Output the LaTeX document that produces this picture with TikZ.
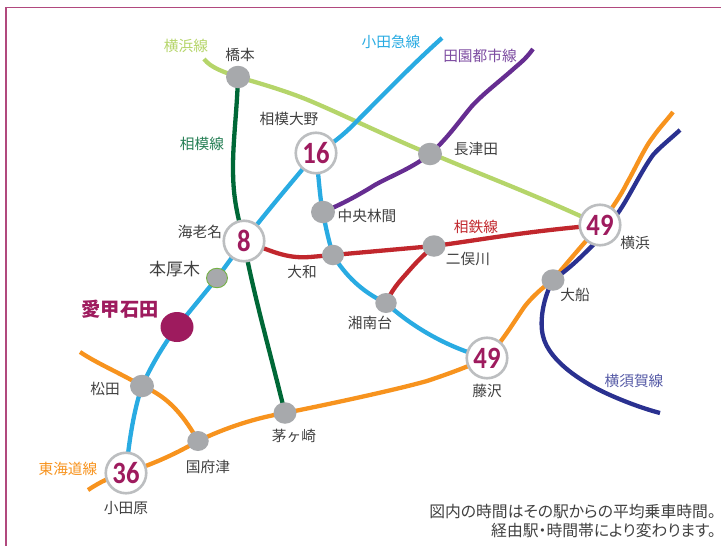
\documentclass[tikz,border=0pt]{standalone}
\usepackage{fontspec}
\setmainfont{Noto Sans CJK JP}
\newfontfamily\numfont[FakeStretch=0.86]{Carlito}
\newfontfamily\notefont[RawFeature=+palt]{Noto Sans CJK JP}
\usetikzlibrary{backgrounds,shapes.geometric}
\definecolor{cOda}{HTML}{29ABE2}
\definecolor{cSag}{HTML}{006837}
\definecolor{cYok}{HTML}{B5D56A}
\definecolor{cDen}{HTML}{662D91}
\definecolor{cSot}{HTML}{C1272D}
\definecolor{cTok}{HTML}{F7931E}
\definecolor{cSuk}{HTML}{2A3190}
\definecolor{cMag}{HTML}{9E1B5E}
\definecolor{cGry}{HTML}{A7A9AC}
\definecolor{cRing}{HTML}{BCBEC0}
\definecolor{cTxt}{HTML}{404040}
\tikzset{
  x=1pt,y=-1pt,
  rail/.style={line width=4.3pt,line cap=butt},
  stn/.style={ellipse,fill=cGry,inner sep=0pt,minimum width=#1,minimum height=#1-1.5pt},
  stn/.default=22pt,
  hub/.style={circle,fill=white,draw=cRing,line width=2.6pt,inner sep=0pt,minimum size=40.5pt,text=cMag,font=\numfont\bfseries\fontsize{31}{31}\selectfont},
  lab/.style={text=cTxt,inner sep=0pt,font=\fontsize{14.7}{14.7}\selectfont},
  llab/.style={inner sep=0pt,font=\fontsize{14.7}{14.7}\selectfont},
  note/.style={text=cTxt,inner sep=0pt,anchor=east,font=\notefont\fontsize{15.8}{15.8}\selectfont},
}
\begin{document}
\begin{tikzpicture}
\useasboundingbox (0,0) rectangle (721,546);
% frame
\coordinate (frameA) at (6,546);
\coordinate (frameB) at (6,7.5);
\coordinate (frameC) at (721,7.5);
\draw[color=cMag!80!white,line width=1.1pt] (frameA) -- (frameB) -- (frameC);
% stations
\node[stn=24pt] (hashimoto) at (238,77) {};
\node[hub] (oono) at (316,153) {16};
\node[hub] (ebina) at (244,241) {8};
\node[stn=24pt] (nagatsuta) at (430,154) {};
\node[stn=24pt] (chuorinkan) at (323,212) {};
\node[stn=22pt] (yamato) at (333,255) {};
\node[stn=23pt] (futamatagawa) at (434,246) {};
\node[hub] (yokohama) at (600,225) {49};
\node[stn=23pt] (ofuna) at (553,280) {};
\node[stn=21.5pt] (shonandai) at (386,303) {};
\node[hub] (fujisawa) at (487,358) {49};
\node[stn=21pt,draw=cYok!80!green!80!black,line width=0.9pt] (honatsugi) at (217,278) {};
\node[ellipse,fill=cMag,inner sep=0pt,minimum width=33pt,minimum height=30pt] (aiko) at (177,327) {};
\node[stn=24pt] (matsuda) at (142,386) {};
\node[stn=21.5pt] (kozu) at (198,441) {};
\node[stn=23pt] (chigasaki) at (285,413) {};
\node[hub] (odawara) at (126,473) {36};
% free ends
\coordinate (yokoEnd) at (204,59);
\coordinate (odaEnd) at (442,38);
\coordinate (denEnd) at (533,49);
\coordinate (gotEnd) at (80,352);
\coordinate (tokWest) at (88,490);
\coordinate (tokEast) at (673,112);
\coordinate (sukN) at (680,130);
\coordinate (sukS) at (660,413);
\begin{scope}[on background layer]
  % Yokohama line
  \draw[rail,cYok] (yokoEnd) .. controls (211,68) and (224,72) .. (hashimoto.center)
     .. controls (262,84) and (290,92) .. (315,103)
     .. controls (350,118) and (395,140) .. (nagatsuta.center)
     -- (442,158) .. controls (490,178) and (540,197) .. (yokohama.center);
  % Sagami line
  \draw[rail,cSag] (hashimoto.center) .. controls (237,110) and (233,140) .. (233,167)
     .. controls (233,195) and (236,210) .. (ebina.center)
     -- (248,263) .. controls (258,310) and (272,360) .. (chigasaki.center);
  % Odakyu main
  \draw[rail,cOda] (odaEnd) .. controls (415,62) and (385,93) .. (360,118)
     .. controls (345,134) and (330,146) .. (oono.center)
     .. controls (298,175) and (272,205) .. (ebina.center)
     -- (honatsugi.center) -- (aiko.center)
     .. controls (165,343) and (153,362) .. (matsuda.center)
     .. controls (134,410) and (129,440) .. (odawara.center);
  % Odakyu Enoshima
  \draw[rail,cOda] (oono.center) .. controls (319,180) and (320,200) .. (chuorinkan.center)
     .. controls (326,230) and (330,245) .. (yamato.center)
     .. controls (345,275) and (362,292) .. (shonandai.center)
     .. controls (410,325) and (445,347) .. (fujisawa.center);
  % Den-en-toshi
  \draw[rail,cDen] (denEnd) .. controls (525,60) and (520,63) .. (510,72)
     .. controls (495,85) and (482,95) .. (472,106)
     .. controls (460,120) and (448,138) .. (nagatsuta.center)
     .. controls (410,170) and (385,178) .. (370,188)
     .. controls (355,197) and (340,205) .. (chuorinkan.center);
  % Sotetsu
  \draw[rail,cSot] (ebina.center) .. controls (270,250) and (285,259) .. (310,257)
     -- (yamato.center) -- (futamatagawa.center)
     .. controls (480,240) and (520,232) .. (yokohama.center);
  \draw[rail,cSot] (futamatagawa.center) .. controls (420,258) and (414,265) .. (407,273)
     .. controls (398,283) and (392,290) .. (shonandai.center);
  % Tokaido
  \draw[rail,cTok] (tokWest) .. controls (100,482) and (112,476) .. (odawara.center)
     .. controls (150,465) and (172,456) .. (kozu.center)
     .. controls (225,428) and (255,418) .. (chigasaki.center)
     .. controls (330,404) and (395,390) .. (427,381)
     .. controls (445,375) and (465,368) .. (fujisawa.center)
     .. controls (505,338) and (515,320) .. (525,306)
     .. controls (533,296) and (542,288) .. (ofuna.center)
     .. controls (565,265) and (585,242) .. (yokohama.center)
     .. controls (612,208) and (620,197) .. (627,183)
     .. controls (636,167) and (645,147) .. (653,137)
     .. controls (660,127) and (667,120) .. (tokEast);
  % Gotemba
  \draw[rail,cTok] (gotEnd) .. controls (98,364) and (120,373) .. (matsuda.center)
     .. controls (165,395) and (182,412) .. (kozu.center);
  % Yokosuka
  \draw[rail,cSuk] (sukN) .. controls (668,141) and (660,147) .. (653,155)
     .. controls (642,170) and (630,195) .. (620,210)
     .. controls (612,222) and (603,235) .. (593,245)
     .. controls (580,258) and (570,268) .. (ofuna.center)
     .. controls (544,296) and (539,320) .. (543,336)
     .. controls (549,362) and (585,384) .. (610,395)
     .. controls (628,403) and (645,409) .. (sukS);
\end{scope}
% station labels
\node[lab] (t1) at (240,55) {橋本};
\node[lab] (t2) at (289,119) {相模大野};
\node[lab] (t3) at (200,232) {海老名};
\node[lab,font=\fontsize{17}{17}\selectfont] (t4) at (174.5,269) {本厚木};
\node[inner sep=0pt,text=cMag,font=\bfseries\fontsize{19.2}{19.2}\selectfont] (t5) at (120,309) {愛甲石田};
\node[lab] (t6) at (105,389) {松田};
\node[lab] (t7) at (126,508) {小田原};
\node[lab] (t8) at (208,467) {国府津};
\node[lab] (t9) at (294,436) {茅ヶ崎};
\node[lab] (t10) at (302,272) {大和};
\node[lab] (t11) at (367,216) {中央林間};
\node[lab] (t12) at (370,323) {湘南台};
\node[lab] (t13) at (468,259) {二俣川};
\node[lab] (t14) at (476,149) {長津田};
\node[lab] (t15) at (635,243) {横浜};
\node[lab] (t16) at (575,295) {大船};
\node[lab] (t17) at (487,391) {藤沢};
% line labels
\node[llab,text=cYok] (l1) at (186,46) {横浜線};
\node[llab,text=cSag!85!white] (l2) at (202,144) {相模線};
\node[llab,text=cOda] (l3) at (391,42) {小田急線};
\node[llab,text=cDen!85!white] (l4) at (480,56) {田園都市線};
\node[llab,text=cSot] (l5) at (476,227) {相鉄線};
\node[llab,text=cTok] (l6) at (68,469) {東海道線};
\node[llab,text=cSuk!80!white] (l7) at (634,381) {横須賀線};
% note
\node[note] (n1) at (716,512) {図内の時間はその駅からの平均乗車時間。};
\node[note] (n2) at (716,531) {経由駅・時間帯により変わります。};
\end{tikzpicture}
\end{document}
